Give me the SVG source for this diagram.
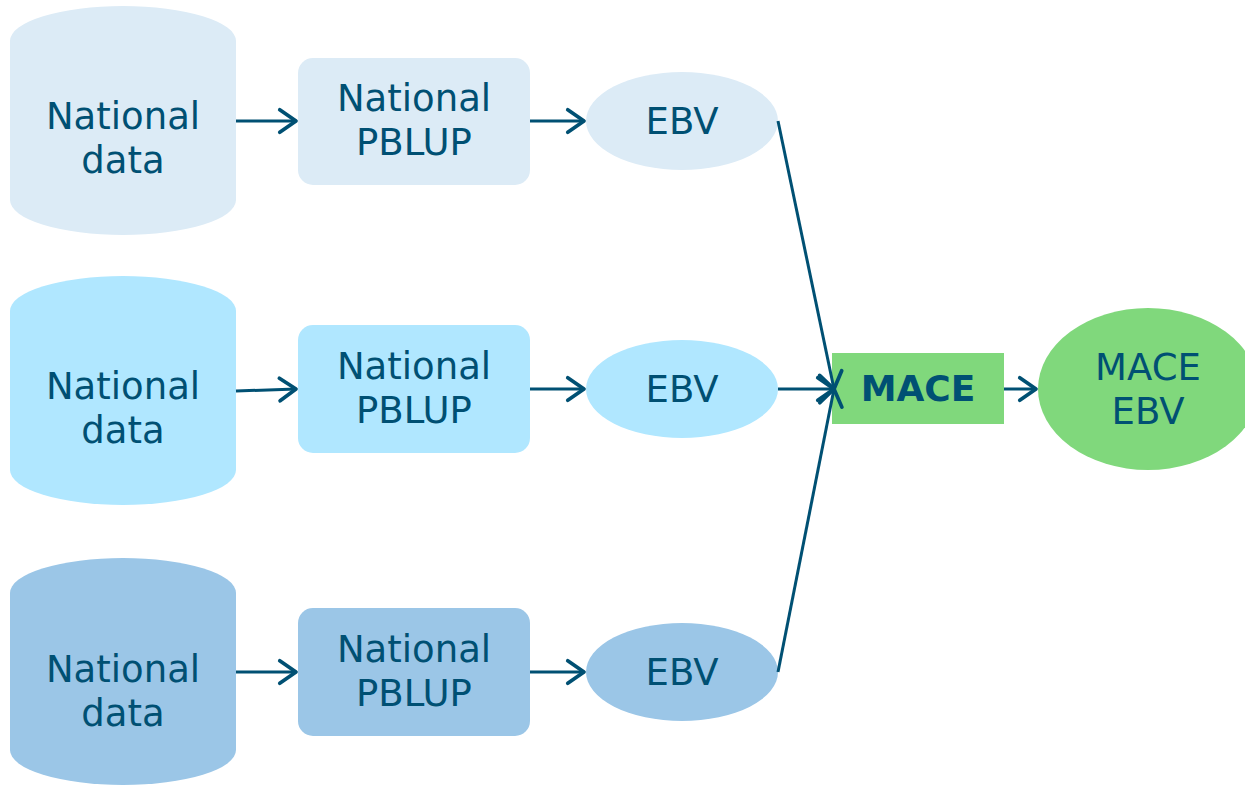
<svg xmlns="http://www.w3.org/2000/svg" width="1245" height="785" viewBox="0 0 1245 785">
<defs>
<marker id="arr" markerUnits="userSpaceOnUse" markerWidth="30" markerHeight="30" viewBox="-16 -12 20 24" refX="0" refY="0" orient="auto">
<path d="M-13,-9 L0,0 L-13,9" fill="none" stroke="#005073" stroke-width="3" stroke-linecap="round" stroke-linejoin="round"/>
</marker>
</defs>
<style>
text{font-family:"DejaVu Sans",Verdana,sans-serif;font-size:37px;fill:#005073;text-anchor:middle}
.b{font-weight:bold;font-size:36px}
.c{fill:none;stroke:#005073;stroke-width:3;marker-end:url(#arr)}
.r1{fill:#DCEBF6}.r2{fill:#B0E7FF}.r3{fill:#9BC6E7}.g{fill:#80D87C}
</style>
<g id="data1"><path class="r1" d="M10,41 A113,35 0 0 1 236,41 L236,200 A113,35 0 0 1 10,200 Z"/><text x="123" y="129">National</text><text x="123" y="173">data</text></g>
<g id="data2"><path class="r2" d="M10,311 A113,35 0 0 1 236,311 L236,470 A113,35 0 0 1 10,470 Z"/><text x="123" y="399">National</text><text x="123" y="443">data</text></g>
<g id="data3"><path class="r3" d="M10,593 A113,35 0 0 1 236,593 L236,750 A113,35 0 0 1 10,750 Z"/><text x="123" y="682">National</text><text x="123" y="726">data</text></g>
<g id="pblup1"><rect class="r1" x="298" y="58" width="232" height="127" rx="15"/><text x="414" y="111">National</text><text x="414" y="155">PBLUP</text></g>
<g id="pblup2"><rect class="r2" x="298" y="325" width="232" height="128" rx="15"/><text x="414" y="379">National</text><text x="414" y="423">PBLUP</text></g>
<g id="pblup3"><rect class="r3" x="298" y="608" width="232" height="128" rx="15"/><text x="414" y="662">National</text><text x="414" y="706">PBLUP</text></g>
<g id="ebv1"><ellipse class="r1" cx="682" cy="121" rx="96" ry="49"/><text x="682" y="134">EBV</text></g>
<g id="ebv2"><ellipse class="r2" cx="682" cy="389" rx="96" ry="49"/><text x="682" y="402">EBV</text></g>
<g id="ebv3"><ellipse class="r3" cx="682" cy="672" rx="96" ry="49"/><text x="682" y="685">EBV</text></g>
<g id="mace"><rect class="g" x="832" y="353" width="172" height="71"/><text class="b" x="918" y="401">MACE</text></g>
<g id="maceebv"><ellipse class="g" cx="1148" cy="389" rx="110" ry="81"/><text x="1148" y="380">MACE</text><text x="1148" y="424">EBV</text></g>
<g id="connectors">
<line class="c" x1="236" y1="121" x2="296" y2="121"/>
<line class="c" x1="236" y1="391" x2="296" y2="389"/>
<line class="c" x1="236" y1="672" x2="296" y2="672"/>
<line class="c" x1="530" y1="121" x2="584" y2="121"/>
<line class="c" x1="530" y1="389" x2="584" y2="389"/>
<line class="c" x1="530" y1="672" x2="584" y2="672"/>
<line class="c" x1="778" y1="121" x2="834" y2="389"/>
<line class="c" x1="778" y1="389" x2="834" y2="389"/>
<line class="c" x1="778" y1="672" x2="834" y2="389"/>
<line class="c" x1="1004" y1="389" x2="1036" y2="389"/>
</g>
</svg>
